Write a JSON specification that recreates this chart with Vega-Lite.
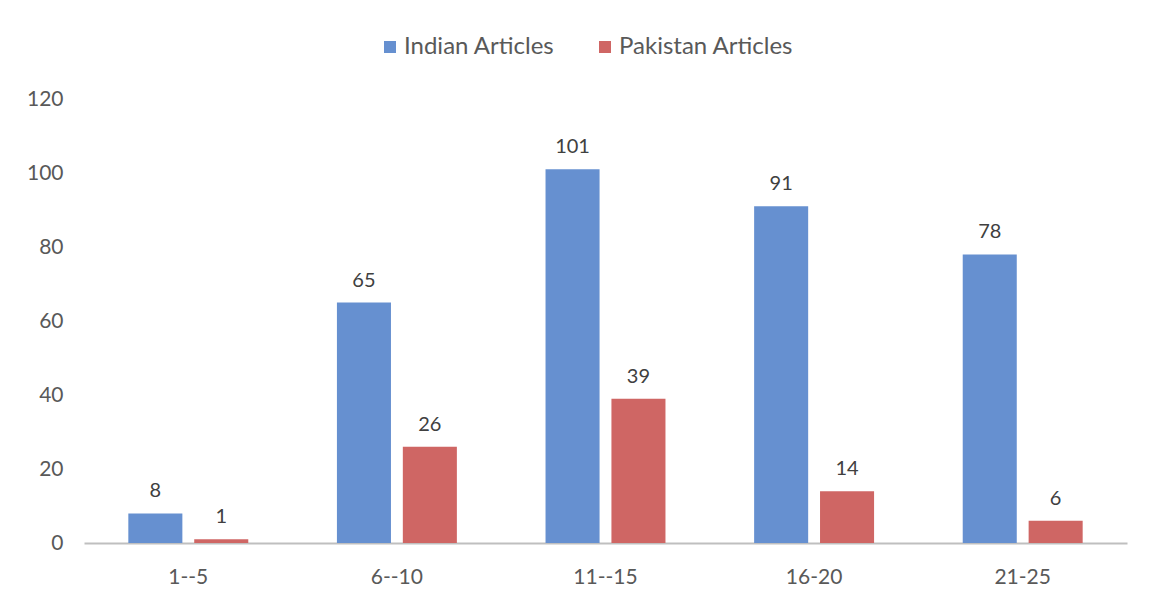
{
  "$schema": "https://vega.github.io/schema/vega-lite/v6.json",
  "autosize": "none",
  "width": 1043,
  "height": 444,
  "padding": {"left": 84, "top": 99, "right": 24, "bottom": 58},
  "background": "white",
  "config": {"view": {"stroke": null}, "font": "Lato"},
  "data": {"values": [
    {"group": "1--5", "series": "Indian Articles", "value": 8},
    {"group": "1--5", "series": "Pakistan Articles", "value": 1},
    {"group": "6--10", "series": "Indian Articles", "value": 65},
    {"group": "6--10", "series": "Pakistan Articles", "value": 26},
    {"group": "11--15", "series": "Indian Articles", "value": 101},
    {"group": "11--15", "series": "Pakistan Articles", "value": 39},
    {"group": "16-20", "series": "Indian Articles", "value": 91},
    {"group": "16-20", "series": "Pakistan Articles", "value": 14},
    {"group": "21-25", "series": "Indian Articles", "value": 78},
    {"group": "21-25", "series": "Pakistan Articles", "value": 6}
  ]},
  "encoding": {
    "x": {"field": "group", "type": "nominal", "sort": null,
      "scale": {"paddingInner": 0.425, "paddingOuter": 0.2125},
      "axis": {"title": null, "labelAngle": 0, "labelFontSize": 21, "labelColor": "#595959",
        "labelPadding": 23, "ticks": false, "domainColor": "#bfbfbf", "domainWidth": 2, "grid": false}},
    "xOffset": {"field": "series", "type": "nominal",
      "scale": {"paddingInner": 0.18, "paddingOuter": 0}},
    "y": {"field": "value", "type": "quantitative",
      "scale": {"domain": [0, 120]},
      "axis": {"title": null, "values": [0, 20, 40, 60, 80, 100, 120], "labelFontSize": 21,
        "labelColor": "#595959", "labelPadding": 21, "ticks": false, "domain": false, "grid": false}}
  },
  "layer": [
    {
      "mark": {"type": "bar", "stroke": null},
      "encoding": {
        "color": {"field": "series", "type": "nominal",
          "scale": {"domain": ["Indian Articles", "Pakistan Articles"], "range": ["#6690d0", "#cf6664"]},
          "legend": {"title": null, "orient": "none", "direction": "horizontal", "legendX": 294, "legendY": -64,
            "symbolType": "square", "symbolSize": 144, "labelFontSize": 24, "labelColor": "#595959",
            "labelLimit": 400, "columnPadding": 38, "labelOffset": 2}}
      }
    },
    {
      "mark": {"type": "text", "baseline": "bottom", "dy": -12, "fontSize": 20, "color": "#404040"},
      "encoding": {"text": {"field": "value", "type": "quantitative"}}
    }
  ]
}
